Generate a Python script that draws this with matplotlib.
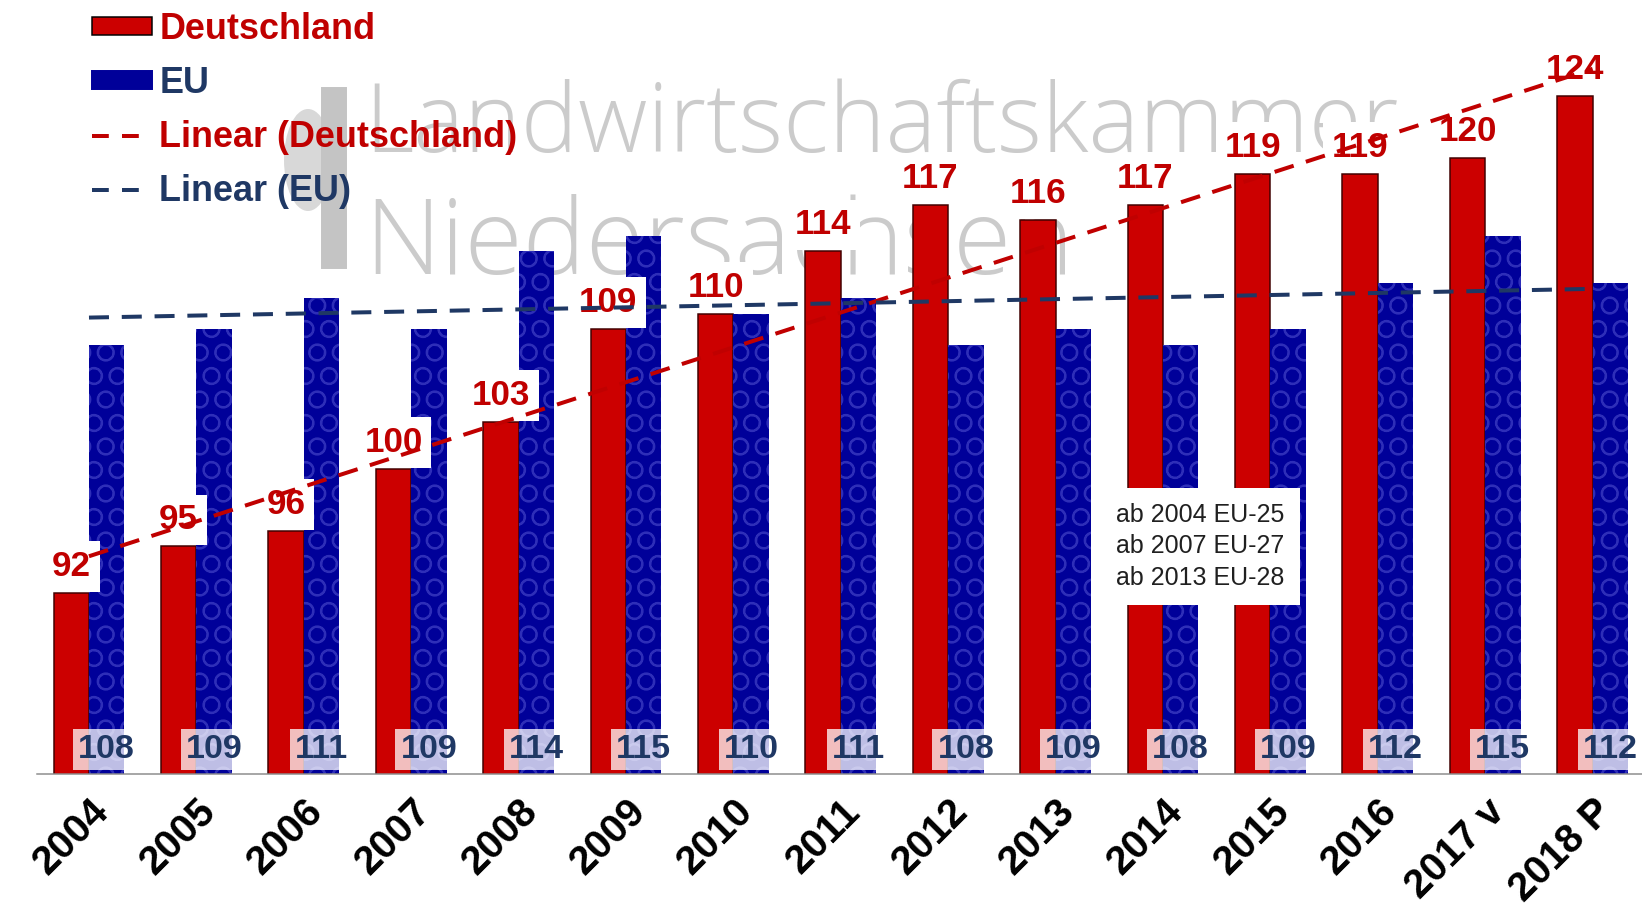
import numpy as np
import matplotlib
matplotlib.use("Agg")
import matplotlib.pyplot as plt
from matplotlib.patches import Patch, Ellipse, Rectangle
from matplotlib.lines import Line2D

# data
years = ["2004", "2005", "2006", "2007", "2008", "2009", "2010", "2011",
         "2012", "2013", "2014", "2015", "2016", "2017 v", "2018 P"]
deutschland = [92, 95, 96, 100, 103, 109, 110, 114, 117, 116, 117, 119, 119, 120, 124]
eu = [108, 109, 111, 109, 114, 115, 110, 111, 108, 109, 108, 109, 112, 115, 112]
legend_labels = ["Deutschland", "EU", "Linear (Deutschland)", "Linear (EU)"]
note_lines = ["ab 2004 EU-25", "ab 2007 EU-27", "ab 2013 EU-28"]

W, H = 1642, 906
DPI = 141  # hatch tile is 1/6 inch, so dpi sets circle spacing


def pt(px):
    """ pixel size -> points at the figure dpi """
    return px * 72 / DPI


RED = "#CC0000"
DARKRED = "#C00000"
BLUE = "#000099"
NAVY = "#1F3864"

plt.rcParams['font.family'] = ['Liberation Sans', 'DejaVu Sans']
plt.rcParams['hatch.color'] = '#2E2EB8'
plt.rcParams['hatch.linewidth'] = pt(1.8)

fig = plt.figure(figsize=(W / DPI, H / DPI), dpi=DPI)
ax = fig.add_axes([37 / W, 1 - 774 / H, 1 - 37 / W, 774 / H])
ax.set_facecolor('none')

# watermark (logo) behind the axes
fig.add_artist(Ellipse((308 / W, 1 - 160 / H), 46 / W, 100 / H, transform=fig.transFigure,
                       color='#d8d8d8', zorder=-2))
fig.add_artist(Rectangle((322 / W, 1 - 268 / H), 24 / W, 180 / H, transform=fig.transFigure,
                         color='#c4c4c4', zorder=-2))
fig.text(364 / W, 1 - 152 / H, "Landwirtschaftskammer", fontsize=pt(96), color='#cbcbcb',
         family=['Open Sans', 'DejaVu Sans'], weight='light', va='baseline', zorder=-1)
fig.text(364 / W, 1 - 274 / H, "Niedersachsen", fontsize=pt(106), color='#cbcbcb',
         family=['Open Sans', 'DejaVu Sans'], weight='light', va='baseline', zorder=-1)

x = np.arange(len(years))
w = 0.33

ax.bar(x - w / 2, deutschland, w, color=RED, edgecolor='#400000', linewidth=pt(1.5), zorder=2)
ax.bar(x + w / 2, eu, w, color=BLUE, hatch='O', zorder=2)

# linear trend lines
k_de, b_de = np.polyfit(x, deutschland, 1)
k_eu, b_eu = np.polyfit(x, eu, 1)
ax.plot(x, k_de * x + b_de, color=DARKRED, lw=pt(4), dashes=(5, 3.2), zorder=4)
ax.plot(x, k_eu * x + b_eu, color=NAVY, lw=pt(4), dashes=(5, 3.2), zorder=4)

# value labels
for xi, v in zip(x, deutschland):
    ax.annotate(str(v), (xi - w / 2, v), xytext=(0, 17), textcoords='offset pixels',
                ha='center', va='baseline', fontsize=pt(35), fontweight='bold', color=DARKRED,
                bbox=dict(boxstyle='square,pad=0.25', fc='white', ec='none'), zorder=3)

ymin, ymax = 80.34, 130.2
for xi, v in zip(x, eu):
    ax.annotate(str(v), (xi + w / 2, ymin), xytext=(0, 16), textcoords='offset pixels',
                ha='center', va='baseline', fontsize=pt(34), fontweight='bold', color=NAVY,
                bbox=dict(boxstyle='square,pad=0.15', fc='white', ec='none', alpha=0.75), zorder=3)

ax.text(10.35, 95.0, "\n".join(note_lines), ha='center', va='center', fontsize=pt(25),
        color='#202020', linespacing=1.38,
        bbox=dict(boxstyle='square,pad=0.6', fc='white', ec='none'), zorder=5)

ax.set_xlim(-0.484, 14.46)
ax.set_ylim(ymin, ymax)
ax.set_yticks([])
for side in ['top', 'right', 'left']:
    ax.spines[side].set_visible(False)
ax.spines['bottom'].set_color('#8c8c8c')
ax.spines['bottom'].set_linewidth(pt(1.5))

ax.set_xticks(x)
ax.set_xticklabels(years, rotation=45, ha='right', rotation_mode='anchor',
                   fontsize=pt(40), fontweight='bold')
ax.tick_params(axis='x', length=0, pad=pt(18))

handles = [
    Patch(fc=RED, ec='black', lw=pt(1.5)),
    Patch(fc=BLUE, ec=BLUE, hatch='o'),
    Line2D([], [], color=DARKRED, lw=pt(4), dashes=(4.2, 3.3)),
    Line2D([], [], color=NAVY, lw=pt(4), dashes=(4.2, 3.3)),
]
leg = fig.legend(handles, legend_labels, loc='upper left', bbox_to_anchor=(92 / W, 1 - 12 / H),
                 frameon=False, prop=dict(weight='bold', size=pt(36)), handlelength=1.67,
                 handleheight=0.39, handletextpad=0.2, labelspacing=0.53,
                 borderpad=0, borderaxespad=0)
for t, c in zip(leg.get_texts(), [DARKRED, NAVY, DARKRED, NAVY]):
    t.set_color(c)

fig.savefig("out.png", dpi=DPI)
